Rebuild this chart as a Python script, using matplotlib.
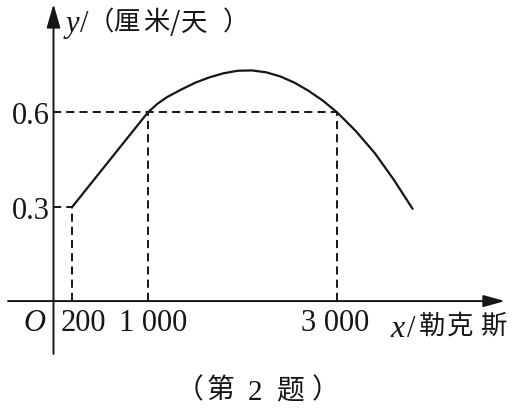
import matplotlib
matplotlib.use('Agg')
import matplotlib.pyplot as plt

W, H = 513, 410

# growth curve
x_line = [200, 1000]
y_line = [0.3, 0.6]
x_curve = [1000, 1100, 1200, 1350, 1500, 1650, 1800, 1950, 2100, 2250,
           2400, 2550, 2700, 2850, 3000, 3200, 3400, 3600, 3800]
y_curve = [0.6, 0.627, 0.648, 0.672, 0.694, 0.711, 0.724, 0.732, 0.733, 0.727,
           0.714, 0.694, 0.668, 0.637, 0.6, 0.54, 0.47, 0.386, 0.293]

x_marks = [200, 1000, 3000]
x_labels = ['200', '1 000', '3 000']
mark_heights = [0.3, 0.6, 0.6]
y_marks = [0.3, 0.6]
y_labels = ['0.3', '0.6']

INK = '#161616'
SERIF = 'Liberation Serif'
CJK = 'Noto Sans CJK SC'

fig = plt.figure(figsize=(W / 100, H / 100), dpi=100)
fig.patch.set_facecolor('white')
ax = fig.add_axes([0, 0, 1, 1])
ax.set_xlim(-566, 4862)
ax.set_ylim(-0.343, 0.960)
ax.axis('off')


def px(x, y):
    return x / W, 1 - y / H


# axes with arrow heads
ax.annotate('', xy=(4777, 0), xytext=(-481, 0),
            arrowprops=dict(arrowstyle='-|>,head_length=1.3,head_width=0.36',
                            color=INK, lw=1.4, shrinkA=0, shrinkB=0,
                            mutation_scale=10))
ax.annotate('', xy=(0, 0.944), xytext=(0, -0.168),
            arrowprops=dict(arrowstyle='-|>,head_length=1.45,head_width=0.42',
                            color=INK, lw=1.4, shrinkA=0, shrinkB=0,
                            mutation_scale=10))

# dashed guides
dash = dict(color=INK, lw=1.4, dashes=(4.2, 2.6))
ax.plot([0, x_marks[0]], [y_marks[0]] * 2, **dash)
ax.plot([0, x_marks[2]], [y_marks[1]] * 2, **dash)
for xm, hm in zip(x_marks, mark_heights):
    ax.plot([xm, xm], [0, hm], **dash)

# the curve
ax.plot(x_line + x_curve[1:], y_line + y_curve[1:], color=INK, lw=1.6,
        solid_joinstyle='round', solid_capstyle='round')

# tick labels
for v, lab in zip(y_marks, y_labels):
    ax.annotate(lab, (0, v), xytext=(-4, -11), textcoords='offset pixels',
                ha='right', va='baseline', family=SERIF, size=22, color=INK)
nudges = [11, 5, -2]
for xm, lab, dx in zip(x_marks, x_labels, nudges):
    ax.annotate(lab, (xm, 0), xytext=(dx, -29), textcoords='offset pixels',
                ha='center', va='baseline', family=SERIF, size=22, color=INK)
ax.annotate('O', (0, 0), xytext=(-19, -29), textcoords='offset pixels',
            ha='center', va='baseline', family=SERIF, style='italic',
            size=22, color=INK)

# axis titles, laid out glyph by glyph
fig.text(*px(72, 32), 'y', ha='center', va='baseline', family=SERIF,
         style='italic', size=22, color=INK)
fig.text(*px(84, 32), '/', ha='center', va='baseline', family=SERIF,
         size=22, color=INK)
for ch, cx in [('（', 101), ('厘', 126.5), ('米', 156), ('/', 175),
               ('天', 194), ('）', 236)]:
    fig.text(*px(cx, 23), ch, ha='center', va='center', family=CJK,
             size=19, color=INK)

fig.text(*px(398, 337), 'x', ha='center', va='baseline', family=SERIF,
         style='italic', size=23, color=INK)
fig.text(*px(411, 337), '/', ha='center', va='baseline', family=SERIF,
         size=22, color=INK)
for ch, cx in [('勒', 432), ('克', 460.5), ('斯', 494)]:
    fig.text(*px(cx, 326.5), ch, ha='center', va='center', family=CJK,
             size=19, color=INK)

# caption
for ch, cx in [('（', 190), ('第', 220.5), ('题', 290), ('）', 326)]:
    fig.text(*px(cx, 390), ch, ha='center', va='center', family=CJK,
             size=20, color=INK)
fig.text(*px(255, 400), '2', ha='center', va='baseline', family=SERIF,
         size=21, color=INK)

fig.savefig('out.png', dpi=100, facecolor='white')
